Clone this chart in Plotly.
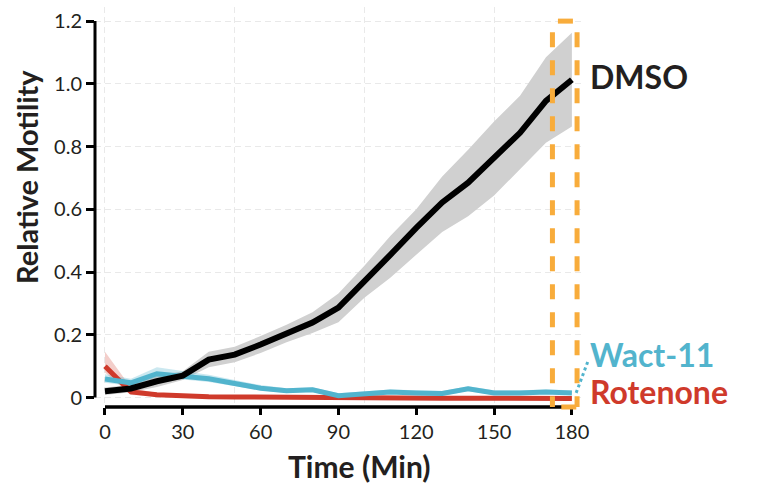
import plotly.graph_objects as go

# ---------------- data ----------------
time = [0, 10, 20, 30, 40, 50, 60, 70, 80, 90, 100, 110, 120, 130, 140, 150, 160, 170, 180]

dmso_mean = [0.020, 0.029, 0.052, 0.070, 0.121, 0.137, 0.169, 0.204, 0.239, 0.287,
             0.369, 0.455, 0.541, 0.622, 0.685, 0.764, 0.844, 0.946, 1.013]
dmso_upper = [0.032, 0.041, 0.070, 0.084, 0.146, 0.162, 0.196, 0.232, 0.272, 0.332,
              0.420, 0.515, 0.600, 0.705, 0.790, 0.880, 0.962, 1.085, 1.163]
dmso_lower = [0.008, 0.017, 0.034, 0.056, 0.097, 0.113, 0.142, 0.176, 0.206, 0.240,
              0.318, 0.382, 0.455, 0.528, 0.578, 0.644, 0.728, 0.812, 0.864]

wact_mean = [0.059, 0.047, 0.076, 0.070, 0.060, 0.045, 0.030, 0.022, 0.025, 0.006,
             0.013, 0.018, 0.015, 0.013, 0.028, 0.015, 0.015, 0.018, 0.015]
wact_upper = [0.074, 0.060, 0.097, 0.085, 0.073, 0.056, 0.040, 0.030, 0.033, 0.014,
              0.021, 0.026, 0.023, 0.021, 0.036, 0.023, 0.023, 0.026, 0.023]
wact_lower = [0.047, 0.037, 0.064, 0.058, 0.050, 0.037, 0.023, 0.015, 0.018, 0.000,
              0.006, 0.011, 0.008, 0.006, 0.021, 0.008, 0.008, 0.011, 0.008]

rot_mean = [0.100, 0.018, 0.009, 0.005, 0.003, 0.002, 0.001, 0.000, 0.000, -0.001,
            -0.001, -0.002, -0.002, -0.002, -0.002, -0.002, -0.002, -0.003, -0.003]
rot_upper = [0.146, 0.032, 0.014, 0.009, 0.007, 0.005, 0.004, 0.003, 0.003, 0.002,
             0.002, 0.001, 0.001, 0.001, 0.001, 0.001, 0.001, 0.000, 0.000]
rot_lower = [0.080, 0.008, 0.004, 0.001, -0.001, -0.001, -0.002, -0.003, -0.003, -0.004,
             -0.004, -0.005, -0.005, -0.005, -0.005, -0.005, -0.005, -0.006, -0.006]

x_ticks = [0, 30, 60, 90, 120, 150, 180]
x_grid = [0, 50, 100, 150]
y_ticks = [0, 0.2, 0.4, 0.6, 0.8, 1.0, 1.2]
y_ticktext = ["0", "0.2", "0.4", "0.6", "0.8", "1.0", "1.2"]

series_labels = ["DMSO", "Wact-11", "Rotenone"]
highlight_window = [172.5, 182]

# ---------------- style ----------------
X_RANGE = [-3.85, 183.9]
Y_RANGE = [-0.03, 1.245]
BLACK = "#000000"
TEXT = "#231f20"
CYAN = "#52b4cd"
RED = "#cf3a2b"
ORANGE = "#f8ac3b"
GRID = "#e9e9e9"
FONT = "Lato"


def band(upper, lower, color):
    return go.Scatter(x=time + time[::-1], y=upper + lower[::-1], fill="toself",
                      fillcolor=color, line=dict(width=0), mode="lines",
                      hoverinfo="skip", showlegend=False)


def line(y, color, width):
    return go.Scatter(x=time, y=y, mode="lines",
                      line=dict(color=color, width=width, shape="linear"),
                      showlegend=False)


fig = go.Figure()
fig.add_trace(band(dmso_upper, dmso_lower, "#d0d0d0"))
fig.add_trace(band(rot_upper, rot_lower, "rgba(207,58,43,0.25)"))
fig.add_trace(band(wact_upper, wact_lower, "rgba(82,180,205,0.30)"))
fig.add_trace(line(rot_mean, RED, 5))
fig.add_trace(line(wact_mean, CYAN, 5))
fig.add_trace(line(dmso_mean, BLACK, 6))
# carrier for the secondary grid axis
fig.add_trace(go.Scatter(x=[], y=[], xaxis="x2", yaxis="y", showlegend=False))

tickfont = dict(family=FONT, size=20, color=TEXT)

fig.update_layout(
    width=757, height=487,
    margin=dict(l=95, r=175, t=7, b=80),
    plot_bgcolor="white", paper_bgcolor="white",
    showlegend=False,
    xaxis=dict(range=X_RANGE, tickvals=x_ticks, ticks="outside", ticklen=7,
               tickwidth=2.5, tickcolor=BLACK, showgrid=False, zeroline=False,
               showline=False, tickfont=tickfont),
    xaxis2=dict(range=X_RANGE, overlaying="x", side="bottom", tickvals=x_grid,
                showticklabels=False, ticks="", showgrid=True, gridcolor=GRID,
                gridwidth=1, griddash="6px,4px", zeroline=False, showline=False),
    yaxis=dict(range=Y_RANGE, tickvals=y_ticks, ticktext=y_ticktext, ticks="outside",
               ticklen=8, tickwidth=2.5, tickcolor=BLACK, showgrid=True,
               gridcolor=GRID, gridwidth=1, griddash="6px,4px", zeroline=False,
               showline=False, tickfont=tickfont),
)

y_top_paper = (y_ticks[-1] - Y_RANGE[0]) / (Y_RANGE[1] - Y_RANGE[0])

# trimmed spines
fig.add_shape(type="line", xref="paper", yref="y", x0=0, x1=0,
              y0=y_ticks[0], y1=y_ticks[-1], line=dict(color=BLACK, width=3),
              layer="above")
fig.add_shape(type="line", xref="x", yref="paper", x0=x_ticks[0], x1=x_ticks[-1],
              y0=0, y1=0, line=dict(color=BLACK, width=3.5), layer="above")

# highlight window: four dashed edges
hw0, hw1 = highlight_window
dash_style = dict(color=ORANGE, width=5, dash="15px,13px")
edges = [
    (hw0, y_top_paper - 0.028, hw0, 0),   # left, top -> bottom
    (hw1, y_top_paper - 0.028, hw1, 0),   # right, top -> bottom
    (hw1 - 1.6, y_top_paper, hw0, y_top_paper),  # top
    (hw1 - 0.3, 0, hw0, 0),               # bottom
]
for ex0, ey0, ex1, ey1 in edges:
    fig.add_shape(type="line", xref="x", yref="paper", x0=ex0, y0=ey0, x1=ex1, y1=ey1,
                  line=dash_style, layer="above")

# dotted connector for Wact-11 label
fig.add_shape(type="line", xref="paper", yref="y", x0=0.988, x1=1.012,
              y0=wact_mean[-1], y1=0.115, line=dict(color=CYAN, width=3, dash="dot"),
              layer="above")

label_font = dict(family=FONT, size=32)
fig.add_annotation(text="<b>%s</b>" % series_labels[0], xref="paper", yref="y",
                   x=1.012, y=dmso_mean[-1] + 0.01, xanchor="left", yanchor="middle",
                   showarrow=False, font=dict(label_font, color=TEXT))
fig.add_annotation(text="<b>%s</b>" % series_labels[1], xref="paper", yref="y",
                   x=1.012, y=0.138, xanchor="left", yanchor="middle",
                   showarrow=False, font=dict(label_font, color=CYAN))
fig.add_annotation(text="<b>%s</b>" % series_labels[2], xref="paper", yref="y",
                   x=1.012, y=0.02, xanchor="left", yanchor="middle",
                   showarrow=False, font=dict(label_font, color=RED))

# axis titles
fig.add_annotation(text="<b>Relative Motility</b>", xref="paper", yref="paper",
                   x=-0.1417, y=0.575, textangle=-90, showarrow=False,
                   xanchor="center", yanchor="middle",
                   font=dict(family=FONT, size=29, color=TEXT))
fig.add_annotation(text="<b>Time (Min)</b>", xref="paper", yref="paper",
                   x=0.544, y=-0.1475, showarrow=False, xanchor="center",
                   yanchor="middle", font=dict(family=FONT, size=30, color=TEXT))

fig.write_html("out.html")
